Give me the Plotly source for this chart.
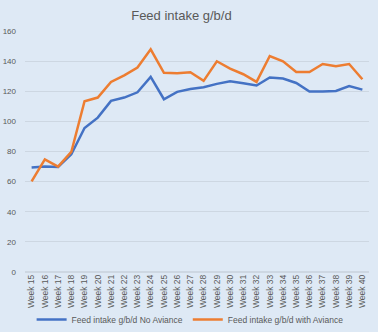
import plotly.graph_objects as go

weeks = [f"Week {w}" for w in range(15, 41)]
no_aviance = [69.3, 70.0, 69.7, 78.2, 95.6, 102.5, 113.6, 115.8, 119.3, 129.5,
              114.7, 119.6, 121.5, 122.7, 124.9, 126.6, 125.3, 123.8, 129.1, 128.4,
              125.5, 119.8, 119.8, 120.2, 123.4, 121.1]
with_aviance = [60.2, 74.8, 70.0, 79.7, 113.4, 115.8, 126.2, 130.6, 135.7, 147.8,
                132.2, 132.0, 132.6, 126.9, 139.9, 135.0, 131.3, 126.2, 143.4, 139.9,
                132.8, 132.8, 138.1, 136.6, 138.1, 128.0]
y_ticks = [0, 20, 40, 60, 80, 100, 120, 140, 160]

bg = "#dee9f5"
fig = go.Figure()
fig.add_trace(go.Scatter(x=weeks, y=no_aviance, mode="lines",
                         name="Feed intake g/b/d No Aviance",
                         line=dict(color="#4472c4", width=2.5)))
fig.add_trace(go.Scatter(x=weeks, y=with_aviance, mode="lines",
                         name="Feed intake g/b/d with Aviance",
                         line=dict(color="#ed7d31", width=2.5)))

fig.update_layout(
    width=378, height=332,
    margin=dict(l=25, r=9, t=31, b=60, autoexpand=False),
    paper_bgcolor=bg, plot_bgcolor=bg,
    font=dict(family="Liberation Sans, Arial, sans-serif", color="#595959", size=8),
    title=dict(text="Feed intake g/b/d", x=0.48, xanchor="center", y=0.953, yanchor="middle",
               font=dict(size=13, color="#595959")),
    showlegend=True,
    legend=dict(orientation="h", x=0.48, xanchor="center", y=-0.197, yanchor="middle",
                font=dict(size=8.5, color="#595959"), bgcolor="rgba(0,0,0,0)",
                itemwidth=30, tracegroupgap=0),
)
fig.update_xaxes(type="category", range=[-0.5, len(weeks) - 0.5], tickangle=-90,
                 showgrid=False, showline=False, automargin=False,
                 ticks="", tickfont=dict(size=8.5, color="#595959"), fixedrange=True)
fig.update_yaxes(range=[0, 160], tickvals=y_ticks, showgrid=True, gridcolor="#cdd7e2",
                 gridwidth=1, zeroline=True, zerolinecolor="#cdd7e2", showline=False,
                 automargin=False, ticks="", tickfont=dict(size=8, color="#595959"),
                 ticklabelstandoff=8)

fig.write_html("out.html")
